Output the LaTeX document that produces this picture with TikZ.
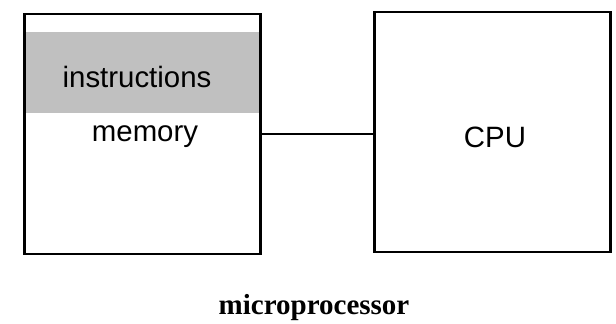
\documentclass[tikz,border=0pt]{standalone}
\usepackage{fontspec}
\setmainfont{Liberation Serif}
\newfontfamily\helv{Liberation Sans}
\usepackage{tikz}
\definecolor{bandgray}{HTML}{C0C0C0}

\begin{document}
\begin{tikzpicture}[x=0.5pt, y=-0.5pt, box/.style={draw, line width=1.1pt, minimum width=118pt, minimum height=120pt, inner sep=0pt}, txt/.style={font=\helv\fontsize{14.7}{17}\selectfont, inner sep=0pt}]
  \useasboundingbox (0,0) rectangle (616,324);
  % instruction area at the top of memory
  \fill[bandgray] (26,32) rectangle (259,113);
  \node[box] (mem) at (142.5,134) {};
  \node[box] (cpu) at (492.5,132) {};
  \node[txt] (instr) at (137,77) {instructions};
  \node[txt] (memlbl) at (145,137) {memory};
  \node[txt] (cpulbl) at (495,137) {CPU};
  \draw[line width=1pt] (mem.east) -- (mem.east -| cpu.west);
  \node[font=\bfseries\fontsize{14.5}{17}\selectfont] (micro) at (314,308) {microprocessor};
\end{tikzpicture}
\end{document}
